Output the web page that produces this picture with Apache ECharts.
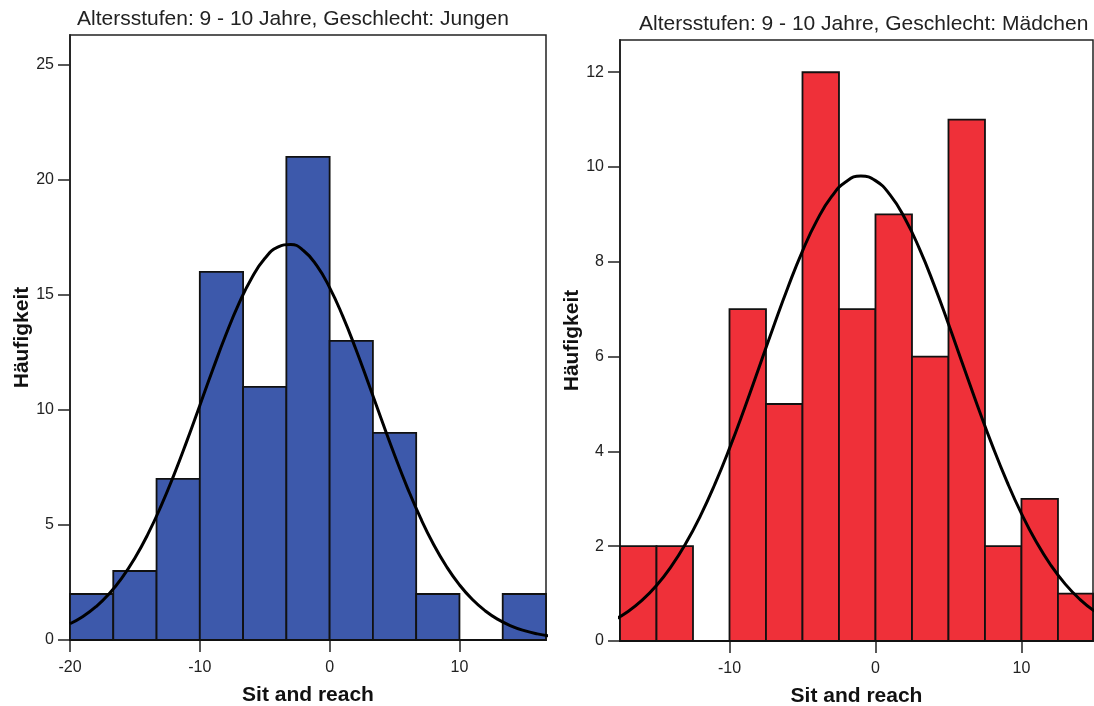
<!DOCTYPE html>
<html>
<head>
<meta charset="utf-8">
<script src="https://cdn.jsdelivr.net/npm/echarts@6/dist/echarts.min.js"></script>
<style>html,body{margin:0;padding:0;background:#fff;}#c{width:1094px;height:706px;}</style>
</head>
<body>
<div id="c"></div>
<script>
// ---- data ----
const titleBoys = 'Altersstufen: 9 - 10 Jahre, Geschlecht: Jungen';
const titleGirls = 'Altersstufen: 9 - 10 Jahre, Geschlecht: Mädchen';
const xAxisName = 'Sit and reach';
const yAxisName = 'Häufigkeit';

const boysEdges = [-20, -16.667, -13.333, -10, -6.667, -3.333, 0, 3.333, 6.667, 10, 13.333, 16.667];
const boysCounts = [2, 3, 7, 16, 11, 21, 13, 9, 2, 0, 2];
const boysCurveX = [-20, -19, -18, -17, -16, -15, -14, -13, -12, -11, -10, -9, -8, -7, -6, -5, -4, -3, -2, -1, 0, 1, 2, 3, 4, 5, 6, 7, 8, 9, 10, 11, 12, 13, 14, 15, 16, 17];
const boysCurveY = [0.707, 1.023, 1.446, 1.997, 2.697, 3.564, 4.601, 5.807, 7.166, 8.645, 10.198, 11.758, 13.256, 14.608, 15.741, 16.581, 17.076, 17.192, 16.922, 16.285, 15.320, 14.090, 12.670, 11.137, 9.572, 8.041, 6.605, 5.304, 4.164, 3.196, 2.398, 1.759, 1.262, 0.885, 0.606, 0.406, 0.266, 0.171];
const boysXTicks = [-20, -10, 0, 10];
const boysYTicks = [0, 5, 10, 15, 20, 25];

const girlsEdges = [-17.5, -15, -12.5, -10, -7.5, -5, -2.5, 0, 2.5, 5, 7.5, 10, 12.5, 15];
const girlsCounts = [2, 2, 0, 7, 5, 12, 7, 9, 6, 11, 2, 3, 1];
const girlsCurveX = [-18, -17, -16, -15, -14, -13, -12, -11, -10, -9, -8, -7, -6, -5, -4, -3, -2, -1, 0, 1, 2, 3, 4, 5, 6, 7, 8, 9, 10, 11, 12, 13, 14, 15];
const girlsCurveY = [0.429, 0.612, 0.856, 1.171, 1.569, 2.055, 2.636, 3.309, 4.064, 4.886, 5.750, 6.621, 7.459, 8.227, 8.880, 9.379, 9.696, 9.810, 9.713, 9.412, 8.926, 8.284, 7.524, 6.688, 5.819, 4.955, 4.128, 3.367, 2.687, 2.098, 1.604, 1.200, 0.879, 0.630];
const girlsXTicks = [-10, 0, 10];
const girlsYTicks = [0, 2, 4, 6, 8, 10, 12];

// ---- build ----
const FONT = '"Liberation Sans", Arial, sans-serif';
function binRows(edges, counts) {
  return counts.map((c, i) => [edges[i], edges[i + 1], c]);
}
function zip(xs, ys) { return xs.map((x, i) => [x, ys[i]]); }
function histItem(color) {
  return function (params, api) {
    const x0 = api.value(0), x1 = api.value(1), c = api.value(2);
    const p0 = api.coord([x0, c]);
    const p1 = api.coord([x1, 0]);
    const cs = params.coordSys;
    const r = echarts.graphic.clipRectByRect(
      { x: p0[0], y: p0[1], width: p1[0] - p0[0], height: p1[1] - p0[1] },
      { x: cs.x, y: cs.y - 2, width: cs.width, height: cs.height + 4 }
    );
    if (!r) return null;
    return {
      type: 'rect',
      shape: r,
      style: { fill: color, stroke: '#111', lineWidth: 1.8 }
    };
  };
}
function xAxisCfg(gi, min, max, ticks) {
  return {
    type: 'value', gridIndex: gi, min: min, max: max,
    splitLine: { show: false },
    axisLine: { show: true, onZero: false, lineStyle: { color: '#222', width: 1.5 } },
    axisTick: { show: true, length: 12, customValues: ticks, lineStyle: { color: '#222', width: 1.5 } },
    axisLabel: { customValues: ticks, fontSize: 16, color: '#222', fontFamily: FONT, margin: 20 },
    name: xAxisName, nameLocation: 'middle', nameGap: 45,
    nameTextStyle: { fontSize: 21, fontWeight: 'bold', color: '#111', fontFamily: FONT }
  };
}
function yAxisCfg(gi, max, ticks) {
  return {
    type: 'value', gridIndex: gi, min: 0, max: max,
    splitLine: { show: false },
    axisLine: { show: true, onZero: false, lineStyle: { color: '#222', width: 1.8 } },
    axisTick: { show: true, length: 12, customValues: ticks, lineStyle: { color: '#222', width: 1.5 } },
    axisLabel: { customValues: ticks, fontSize: 16, color: '#222', fontFamily: FONT, margin: 16 },
    name: yAxisName, nameLocation: 'middle', nameGap: 37,
    nameTextStyle: { fontSize: 21, fontWeight: 'bold', color: '#111', fontFamily: FONT }
  };
}

const chart = echarts.init(document.getElementById('c'), null, { renderer: 'canvas' });
chart.setOption({
  backgroundColor: '#ffffff',
  animation: false,
  title: [
    { text: titleBoys, left: 72, top: 4, textStyle: { fontSize: 21, fontWeight: 'normal', color: '#222', fontFamily: FONT } },
    { text: titleGirls, left: 634, top: 9, textStyle: { fontSize: 21, fontWeight: 'normal', color: '#222', fontFamily: FONT } }
  ],
  grid: [
    { left: 70, top: 35, width: 476, height: 605, show: true, borderColor: '#222', borderWidth: 1.5, backgroundColor: 'transparent', containLabel: false, outerBoundsMode: 'none' },
    { left: 620, top: 40, width: 473, height: 601, show: true, borderColor: '#222', borderWidth: 1.5, backgroundColor: 'transparent', containLabel: false, outerBoundsMode: 'none' }
  ],
  xAxis: [
    xAxisCfg(0, -20, 16.667, boysXTicks),
    xAxisCfg(1, -17.5, 14.9, girlsXTicks)
  ],
  yAxis: [
    yAxisCfg(0, 26.3, boysYTicks),
    yAxisCfg(1, 12.68, girlsYTicks)
  ],
  series: [
    {
      type: 'custom', xAxisIndex: 0, yAxisIndex: 0,
      data: binRows(boysEdges, boysCounts),
      encode: { x: [0, 1], y: 2 },
      renderItem: histItem('#3d59ab'), z: 2
    },
    {
      type: 'line', xAxisIndex: 0, yAxisIndex: 0,
      data: zip(boysCurveX, boysCurveY), smooth: true, showSymbol: false,
      lineStyle: { color: '#000', width: 3 }, z: 3, clip: true
    },
    {
      type: 'custom', xAxisIndex: 1, yAxisIndex: 1,
      data: binRows(girlsEdges, girlsCounts),
      encode: { x: [0, 1], y: 2 },
      renderItem: histItem('#ef3039'), z: 2
    },
    {
      type: 'line', xAxisIndex: 1, yAxisIndex: 1,
      data: zip(girlsCurveX, girlsCurveY), smooth: true, showSymbol: false,
      lineStyle: { color: '#000', width: 3 }, z: 3, clip: true
    }
  ]
});
</script>
</body>
</html>
